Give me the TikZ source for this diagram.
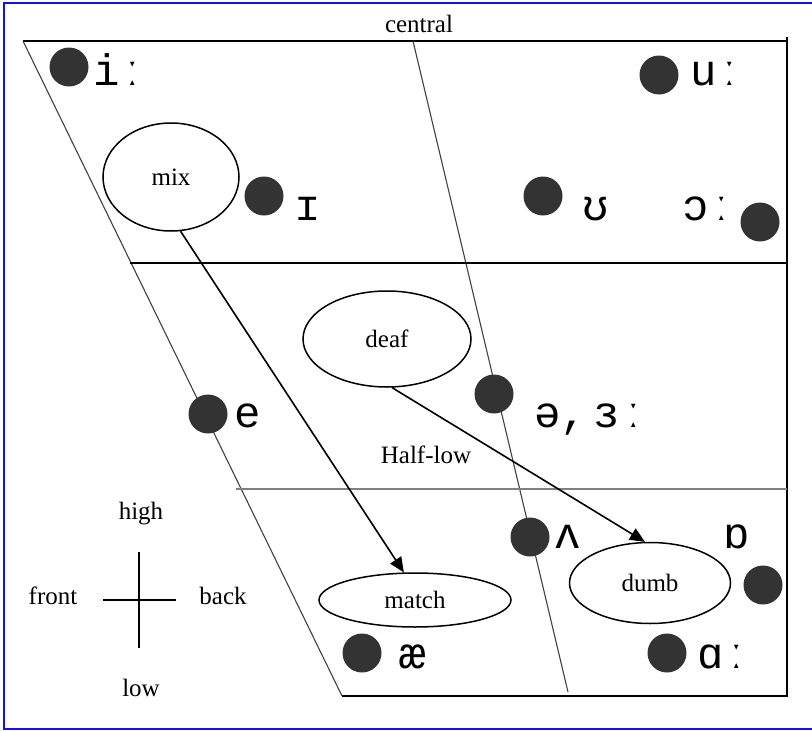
\documentclass[tikz,border=0pt]{standalone}
\usepackage{fontspec}
\setmainfont{Liberation Serif}
\newfontfamily\ipafont{Liberation Mono}
\usetikzlibrary{arrows.meta,shapes.geometric}
\definecolor{dotgray}{HTML}{333333}
\definecolor{framblue}{HTML}{1010F0}
\begin{document}
\begin{tikzpicture}[x=1pt,y=-1pt,
  vdot/.style={circle,fill=dotgray,draw=none,minimum size=39pt,inner sep=0pt},
  ipa/.style={font=\ipafont\fontsize{44}{44}\selectfont,inner sep=0pt,anchor=base west},
  lbl/.style={font=\fontsize{25}{25}\selectfont,inner sep=0pt},
  word/.style={ellipse,draw=black,line width=1.5pt,fill=white,inner sep=0pt,font=\fontsize{25}{25}\selectfont},
  chartline/.style={line width=1.4pt,black},
  slant/.style={line width=1.1pt,draw=black!75},
  arr/.style={line width=1.6pt,-{Triangle[length=15pt,width=13pt]}}
]
\useasboundingbox (0,0) rectangle (812,731);
\draw[framblue,line width=2.2pt] (4,3) rectangle (816,729);

% chart frame
\draw[chartline] (23,41) -- (788,41);
\draw[line width=1.7pt] (787,37) -- (787,697);
\draw[line width=2.4pt] (342,696) -- (788,696);
\draw[slant] (23,41) -- (342,696);
\draw[slant] (413,41) -- (568,692);
\draw[line width=1.3pt] (130,263) -- (787,263);
\draw[line width=2.6pt,black!50] (236,489) -- (787,489);

\node[lbl] (central) at (419,24) {central};
\node[lbl] (halflow) at (426,455) {Half-low};

% vowel dots
\node[vdot] (d1) at (69,67) {};
\node[vdot] (d2) at (264,196) {};
\node[vdot] (d3) at (659,75) {};
\node[vdot] (d4) at (543,196) {};
\node[vdot] (d5) at (760,222) {};
\node[vdot] (d6) at (208,414) {};
\node[vdot] (d7) at (494,394) {};
\node[vdot] (d8) at (530,537) {};
\node[vdot] (d9) at (763,585) {};
\node[vdot] (d10) at (362,653) {};
\node[vdot] (d11) at (667,653) {};

% IPA labels
\node[ipa] (l1) at (93,85) {iː};
\node[ipa] (l2) at (294,220) {ɪ};
\node[ipa] (l3) at (690,85) {uː};
\node[ipa] (l4) at (582,220) {ʊ};
\node[ipa] (l5) at (682,220) {ɔː};
\node[ipa] (l6) at (234,427) {e};
\node[ipa] (l7) at (534,427) {ə,\kern-0.45em\ ɜː};
\node[ipa] (l8) at (554,548) {ʌ};
\node[ipa] (l9) at (723,548) {ɒ};
\node[ipa] (l10) at (399,668) {æ};
\node[ipa] (l11) at (697,668) {ɑː};

% word ellipses
\node[word,minimum width=136pt,minimum height=108pt] (mix) at (171,177) {mix};
\node[word,minimum width=168pt,minimum height=96pt] (deaf) at (387,339) {deaf};
\node[word,minimum width=192pt,minimum height=54pt] (match) at (415,600) {match};
\node[word,minimum width=161pt,minimum height=81pt] (dumb) at (650,583) {dumb};

\draw[arr] (mix.-80) -- (match.112);
\draw[arr] (deaf.-84) -- (dumb.97);

% orientation cross
\coordinate (ct) at (139,552);
\coordinate (cb) at (139,648);
\coordinate (cl) at (103,600);
\coordinate (cr) at (176,600);
\draw[line width=1.6pt] (ct) -- (cb);
\draw[line width=1.6pt] (cl) -- (cr);
\node[lbl] (high) at (141,514) {high};
\node[lbl] (front) at (53,596) {front};
\node[lbl] (back) at (223,596) {back};
\node[lbl] (low) at (141,688) {low};
\end{tikzpicture}
\end{document}
